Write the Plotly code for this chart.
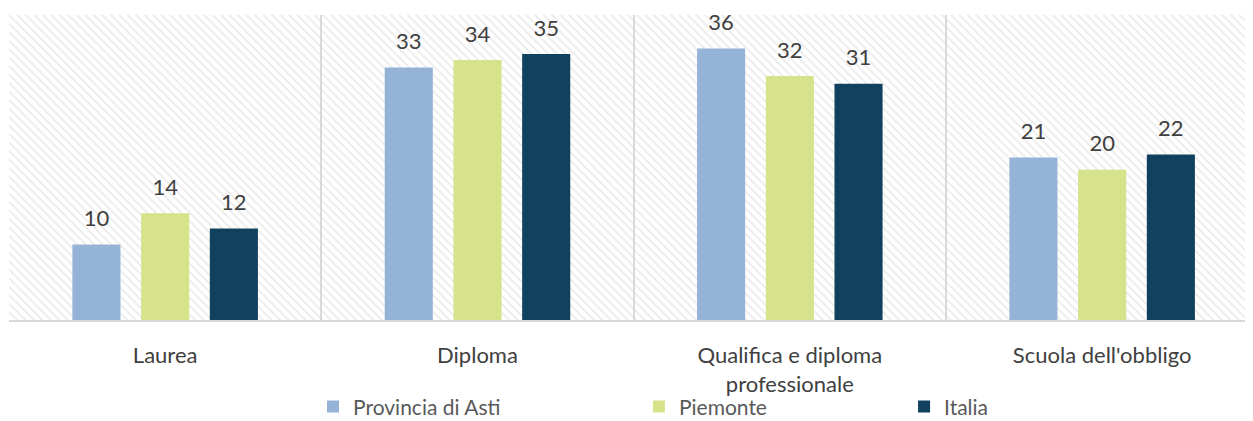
import plotly.graph_objects as go

categories = ["Laurea", "Diploma", "Qualifica e diploma<br>professionale", "Scuola dell'obbligo"]
series_names = ["Provincia di Asti", "Piemonte", "Italia"]
asti = [9.9, 33.1, 35.6, 21.3]
piemonte = [14.0, 34.1, 32.0, 19.7]
italia = [12.0, 34.9, 31.0, 21.7]
colors = ["#95B3D7", "#D7E38B", "#10415F"]

FONT = "Lato"
TXT = "#404040"

fig = go.Figure()

# hatched plot background on the main (hidden) axes
fig.add_trace(go.Bar(
    x=[0.5], y=[1], width=[1], xaxis="x", yaxis="y",
    marker=dict(color="rgba(0,0,0,0)", line=dict(width=0),
                pattern=dict(shape="\\", fgcolor="#D2D2D2", size=6, solidity=0.25)),
    showlegend=False, hoverinfo="skip",
))

legends = ["legend", "legend2", "legend3"]
all_vals = [asti, piemonte, italia]
for name, vals, col, lg in zip(series_names, all_vals, colors, legends):
    fig.add_trace(go.Bar(
        x=categories, y=vals, name=name, xaxis="x2", yaxis="y2",
        marker=dict(color=col, line=dict(width=0)),
        legend=lg, hoverinfo="skip",
    ))

# value labels (scatter text, grouped like the bars)
for name, vals in zip(series_names, all_vals):
    fig.add_trace(go.Scatter(
        x=categories, y=vals, xaxis="x2", yaxis="y2", mode="markers+text",
        marker=dict(size=19, color="rgba(0,0,0,0)"),
        text=[f"{v:.0f}" for v in vals], textposition="top center",
        textfont=dict(family=FONT, size=22, color=TXT),
        showlegend=False, hoverinfo="skip", cliponaxis=False,
    ))

leg_common = dict(orientation="h", yanchor="middle", y=-0.285, xanchor="left",
                  font=dict(family=FONT, size=21, color="#595959"),
                  bgcolor="rgba(0,0,0,0)", itemwidth=30)

fig.update_layout(
    width=1245, height=413,
    margin=dict(l=1, r=0, t=7, b=101, autoexpand=False),
    paper_bgcolor="white", plot_bgcolor="white",
    barmode="group", bargap=0.34, bargroupgap=0.3,
    scattermode="group", scattergap=0.34,
    xaxis=dict(range=[0, 1], visible=False, fixedrange=True),
    yaxis=dict(range=[0, 1], visible=False, fixedrange=True),
    xaxis2=dict(overlaying="x", type="category", range=[-0.5, 3.483],
                tickson="boundaries", showgrid=True, gridcolor="#D9D9D9", gridwidth=1.5,
                showline=True, linecolor="#D9D9D9", linewidth=2, ticks="",
                ticklabelstandoff=15, automargin=False,
                tickfont=dict(family=FONT, size=22, color=TXT)),
    yaxis2=dict(overlaying="y", range=[0, 40], visible=False),
    legend=dict(x=0.2444, **leg_common),
    legend2=dict(x=0.5064, **leg_common),
    legend3=dict(x=0.7195, **leg_common),
    showlegend=True,
)

fig.write_html("out.html")
